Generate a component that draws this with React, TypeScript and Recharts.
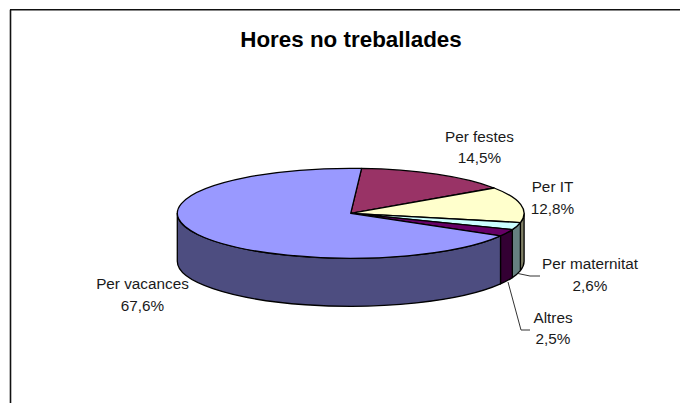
import React from "react";
import { PieChart, Pie } from "recharts";

const categories = ["Per festes", "Per IT", "Per maternitat", "Altres", "Per vacances"];
const shares = [14.5, 12.8, 2.6, 2.5, 67.6];
const topColors = ["#993366", "#FFFFCC", "#CCFFFF", "#660066", "#9999FF"];
const wallColors = ["#4D1A33", "#808066", "#668080", "#330033", "#4D4D80"];
const title = "Hores no treballades";

const CX = 350.7;
const CY = 213.3;
const RX = 173.4;
const RY = 45;
const DEPTH = 48;
const FONT = "'Liberation Sans', Arial, sans-serif";
const INK = "#1a1a1a";

const table = categories.map((name, i) => ({
  name,
  value: shares[i],
  fill: topColors[i],
}));

// Label placement: x centre, baseline of the two text rows, and optional leader line.
const labelLayout: { x: number; y1: number; y2: number; leader?: string }[] = [
  { x: 479.5, y1: 141.5, y2: 162.5 },
  { x: 552.5, y1: 192, y2: 214 },
  { x: 590, y1: 269, y2: 290.5, leader: "518,273.5 530,276 540,276" },
  { x: 553, y1: 322.5, y2: 344, leader: "508,282 521,330 530,330" },
  { x: 142.5, y1: 289, y2: 311 },
];

const pt = (deg: number, dy = 0) => {
  const r = (deg * Math.PI) / 180;
  return `${CX + RX * Math.cos(r)} ${CY - RY * Math.sin(r) + dy}`;
};

const Slice3D = (props: any) => {
  const { startAngle: s, endAngle: e, index } = props;
  const i = index ?? categories.indexOf(props.name);
  const hi = Math.min(s, 0);
  const lo = Math.max(e, -180);
  const large = Math.abs(s - e) > 180 ? 1 : 0;
  const top = `M${CX} ${CY} L${pt(s)} A${RX} ${RY} 0 ${large} 1 ${pt(e)} Z`;
  const wall =
    hi > lo
      ? `M${pt(hi)} A${RX} ${RY} 0 0 1 ${pt(lo)} L${pt(lo, DEPTH)} A${RX} ${RY} 0 0 0 ${pt(hi, DEPTH)} Z`
      : null;
  return (
    <g>
      {wall && <path d={wall} fill={wallColors[i]} stroke="#000" strokeWidth={1.3} strokeLinejoin="round" />}
      <path d={top} fill={topColors[i]} stroke="#000" strokeWidth={1.3} strokeLinejoin="round" />
    </g>
  );
};

const renderLabel = (props: any) => {
  const i = props.index;
  const l = labelLayout[i];
  const pct = `${shares[i].toFixed(1).replace(".", ",")}%`;
  return (
    <g key={categories[i]}>
      {l.leader && <polyline points={l.leader} fill="none" stroke="#333" strokeWidth={1} />}
      <text x={l.x} y={l.y1} textAnchor="middle" fontFamily={FONT} fontSize={15.3} fill={INK}>
        {categories[i]}
      </text>
      <text x={l.x} y={l.y2} textAnchor="middle" fontFamily={FONT} fontSize={15.3} fill={INK}>
        {pct}
      </text>
    </g>
  );
};

export default function App() {
  return (
    <div style={{ position: "absolute", left: 0, top: 0, width: 680, height: 403, background: "#fff", overflow: "hidden" }}>
      <PieChart width={680} height={403} margin={{ top: 0, right: 0, bottom: 0, left: 0 }}>
        <line x1={10} y1={9.8} x2={680} y2={9.8} stroke="#111" strokeWidth={1.6} />
        <line x1={10.5} y1={9.8} x2={10.5} y2={403} stroke="#111" strokeWidth={1.6} />
        <text x={351} y={47} textAnchor="middle" fontFamily={FONT} fontWeight="bold" fontSize={22.4} fill="#000">
          {title}
        </text>
        <Pie
          data={table}
          dataKey="value"
          nameKey="name"
          cx={CX}
          cy={CY}
          innerRadius={0}
          outerRadius={RX}
          startAngle={86.4}
          endAngle={-273.6}
          isAnimationActive={false}
          shape={Slice3D}
          label={renderLabel}
          labelLine={false}
        />
      </PieChart>
    </div>
  );
}
